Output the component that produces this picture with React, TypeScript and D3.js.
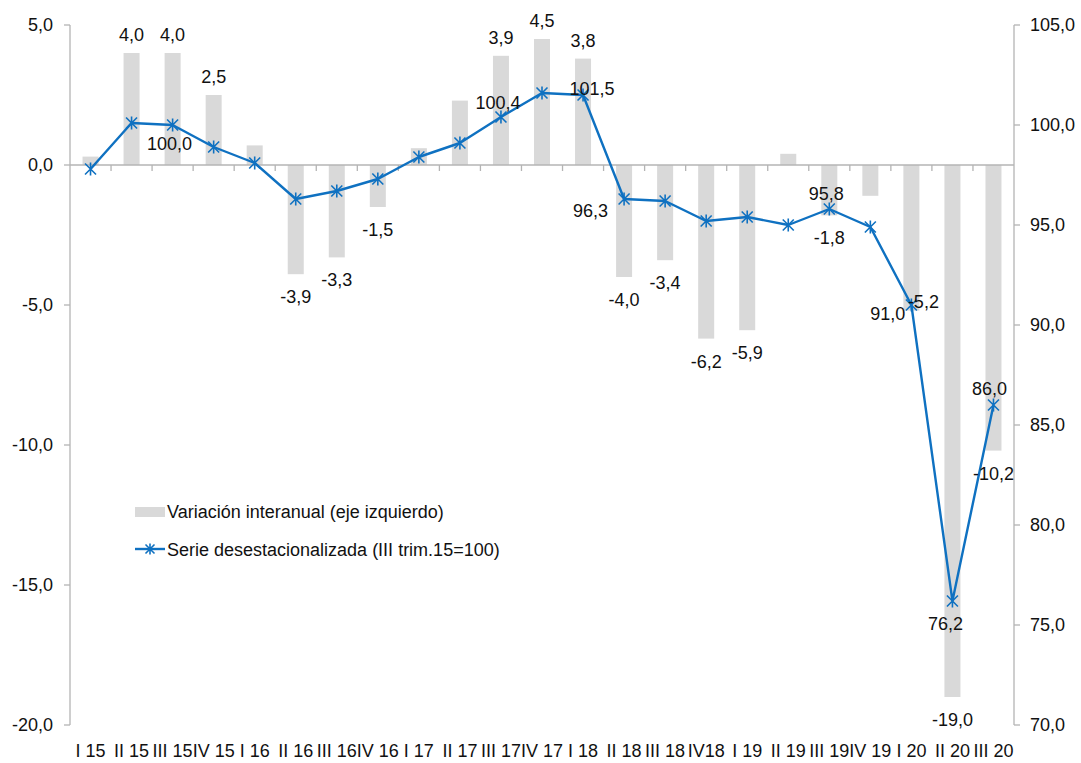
import React from "react";
import * as d3 from "d3";

const categories = ["I 15","II 15","III 15","IV 15","I 16","II 16","III 16","IV 16","I 17","II 17","III 17","IV 17","I 18","II 18","III 18","IV18","I 19","II 19","III 19","IV 19","I 20","II 20","III 20"];
const variacion = [0.3,4.0,4.0,2.5,0.7,-3.9,-3.3,-1.5,0.6,2.3,3.9,4.5,3.8,-4.0,-3.4,-6.2,-5.9,0.4,-1.8,-1.1,-5.2,-19.0,-10.2];
const serie = [97.8,100.1,100.0,98.9,98.1,96.3,96.7,97.3,98.4,99.1,100.4,101.6,101.5,96.3,96.2,95.2,95.4,95.0,95.8,94.9,91.0,76.2,86.0];
const leftTicks = [5,0,-5,-10,-15,-20];
const rightTicks = [105,100,95,90,85,80,75,70];
const seriesNames = ["Variación interanual (eje izquierdo)", "Serie desestacionalizada (III trim.15=100)"];

// label placement (style, not data)
const barLabelShown = [false,true,true,true,false,true,true,true,false,false,true,true,true,true,true,true,true,false,true,false,true,true,true];
const barLabelOffset: Record<number, [number, number]> = { 20: [12, -3] };
const lineLabelPlace: Record<number, { dx: number; dy: number; anchor: string }> = {
  2: { dx: -3, dy: 25, anchor: "middle" },
  10: { dx: -3, dy: -8, anchor: "middle" },
  12: { dx: 9, dy: 0, anchor: "middle" },
  13: { dx: -16, dy: 18, anchor: "end" },
  18: { dx: -3, dy: -9, anchor: "middle" },
  20: { dx: -6, dy: 15, anchor: "end" },
  21: { dx: -7, dy: 29, anchor: "middle" },
  22: { dx: -4, dy: -10, anchor: "middle" },
};

const W = 1081, H = 763;
const X0 = 70, X1 = 1014, YT = 25, YB = 725;
const FONT = "'Liberation Sans', Arial, sans-serif";
const BLUE = "#0f71c1";
const GRAY = "#d9d9d9";
const AXIS = "#b4b4b4";

const fmt = (v: number) => v.toFixed(1).replace(".", ",");

function Star({ x, y, s = 5.5 }: { x: number; y: number; s?: number }) {
  return (
    <path
      d={`M${x - s},${y - s}L${x + s},${y + s}M${x - s},${y + s}L${x + s},${y - s}M${x},${y - s - 1}L${x},${y + s + 1}`}
      stroke={BLUE}
      strokeWidth={1.6}
      fill="none"
    />
  );
}

export default function App() {
  const x = d3.scaleBand<string>().domain(categories).range([X0, X1]).paddingInner(0).paddingOuter(0);
  const yL = d3.scaleLinear().domain([-20, 5]).range([YB, YT]);
  const yR = d3.scaleLinear().domain([70, 105]).range([YB, YT]);
  const bw = x.bandwidth() * 0.39;
  const cx = (c: string) => (x(c) as number) + x.bandwidth() / 2;
  const line = d3
    .line<number>()
    .x((_, i) => cx(categories[i]))
    .y((d) => yR(d));

  return (
    <svg width={W} height={H} style={{ position: "absolute", left: 0, top: 0, background: "#fff" }} fontFamily={FONT}>
      {/* bars */}
      {variacion.map((v, i) => (
        <rect
          key={"b" + i}
          x={cx(categories[i]) - bw / 2}
          y={Math.min(yL(v), yL(0))}
          width={bw}
          height={Math.abs(yL(v) - yL(0))}
          fill={GRAY}
        />
      ))}
      {/* axes */}
      <line x1={X0} x2={X0} y1={YT} y2={YB} stroke={AXIS} strokeWidth={1.3} />
      {leftTicks.map((t) => (
        <g key={"lt" + t}>
          <line x1={X0 - 6} x2={X0} y1={yL(t)} y2={yL(t)} stroke={AXIS} strokeWidth={1.3} />
          <text x={53} y={yL(t)} dy="0.35em" textAnchor="end" fontSize={18} fill="#111">
            {fmt(t)}
          </text>
        </g>
      ))}
      <line x1={X1} x2={X1} y1={YT} y2={YB} stroke={AXIS} strokeWidth={1.3} />
      {rightTicks.map((t) => (
        <g key={"rt" + t}>
          <line x1={X1} x2={X1 + 6} y1={yR(t)} y2={yR(t)} stroke={AXIS} strokeWidth={1.3} />
          <text x={1030} y={yR(t)} dy="0.35em" textAnchor="start" fontSize={18} fill="#111">
            {fmt(t)}
          </text>
        </g>
      ))}
      <line x1={X0} x2={X1} y1={yL(0)} y2={yL(0)} stroke={AXIS} strokeWidth={1.3} />
      {categories.slice(1).map((c) => (
        <line key={"xt" + c} x1={x(c) as number} x2={x(c) as number} y1={yL(0)} y2={yL(0) + 6} stroke={AXIS} strokeWidth={1.3} />
      ))}
      {categories.map((c) => (
        <text key={"xl" + c} x={cx(c)} y={757} textAnchor="middle" fontSize={18} fill="#111">
          {c}
        </text>
      ))}
      {/* line */}
      <path d={line(serie) || ""} fill="none" stroke={BLUE} strokeWidth={2.4} strokeLinejoin="round" />
      {serie.map((v, i) => (
        <Star key={"m" + i} x={cx(categories[i])} y={yR(v)} />
      ))}
      {/* bar labels */}
      {variacion.map((v, i) => {
        if (!barLabelShown[i]) return null;
        const off = barLabelOffset[i];
        const px = cx(categories[i]) + (off ? off[0] : 0);
        const py = off ? yL(v) + off[1] : v >= 0 ? yL(v) - 12 : yL(v) + 29;
        return (
          <text key={"bl" + i} x={px} y={py} textAnchor="middle" fontSize={18} fill="#111">
            {fmt(v)}
          </text>
        );
      })}
      {/* line labels */}
      {serie.map((v, i) => {
        const p = lineLabelPlace[i];
        if (!p) return null;
        return (
          <text key={"ll" + i} x={cx(categories[i]) + p.dx} y={yR(v) + p.dy} textAnchor={p.anchor} fontSize={18} fill="#111">
            {fmt(v)}
          </text>
        );
      })}
      {/* legend */}
      <rect x={135} y={507} width={30} height={10} fill={GRAY} />
      <text x={167} y={518} fontSize={18} fill="#111">
        {seriesNames[0]}
      </text>
      <line x1={135} x2={165} y1={549} y2={549} stroke={BLUE} strokeWidth={2.4} />
      <Star x={150} y={549} s={4.5} />
      <text x={167} y={556} fontSize={18} fill="#111">
        {seriesNames[1]}
      </text>
    </svg>
  );
}
